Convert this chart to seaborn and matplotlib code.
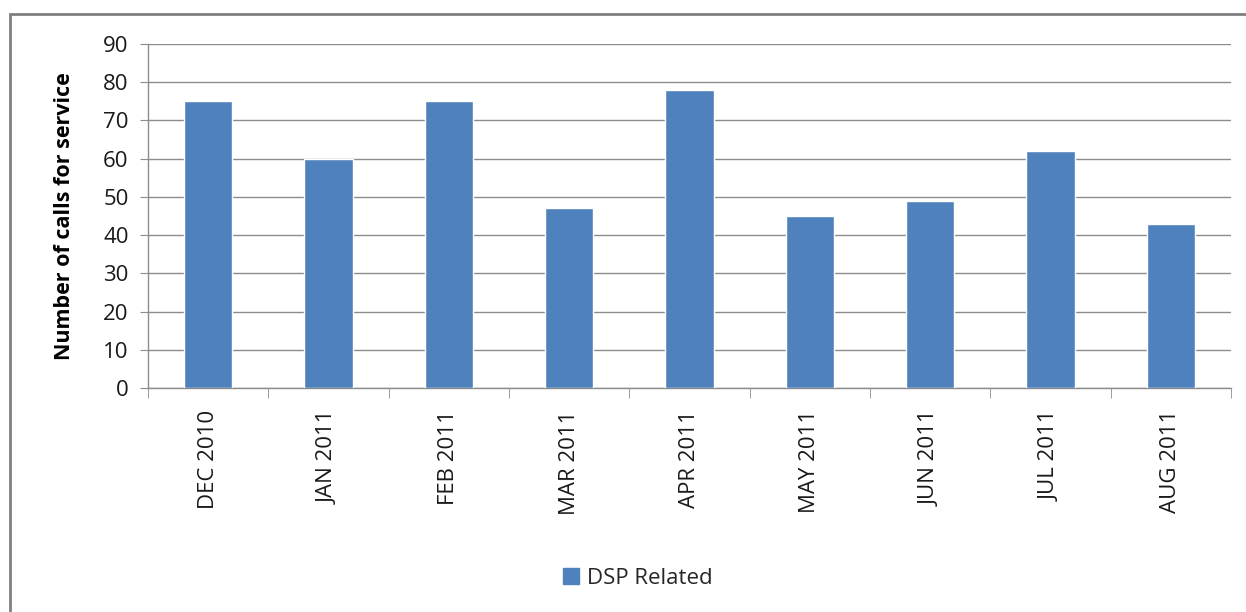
import pandas as pd
import numpy as np
import matplotlib
matplotlib.use("Agg")
import matplotlib.pyplot as plt
import seaborn as sns
from matplotlib.patches import Rectangle, Patch

# data
months = ["DEC 2010", "JAN 2011", "FEB 2011", "MAR 2011", "APR 2011",
          "MAY 2011", "JUN 2011", "JUL 2011", "AUG 2011"]
calls = [75, 60, 75, 47, 78, 45, 49, 62, 43]

df = pd.DataFrame({"Month": months, "Calls": calls})

sns.set_style("white")
plt.rcParams["font.family"] = ["Open Sans", "DejaVu Sans"]

fig = plt.figure(figsize=(12.46, 6.12), dpi=100)
ax = fig.add_axes([148 / 1246, 1 - 388 / 612, (1231 - 148) / 1246, (388 - 44) / 612])

bar_color = "#4F81BD"
sns.barplot(data=df, x="Month", y="Calls", color=bar_color, width=0.4,
            saturation=1, ax=ax, zorder=3)

ax.set_ylim(0, 90)
ax.set_yticks(range(0, 91, 10))
ax.set_xlim(-0.5, len(months) - 0.5)
ax.yaxis.grid(True, color="#8c8c8c", linewidth=1)
ax.set_axisbelow(True)

for s in ["top", "right"]:
    ax.spines[s].set_visible(False)
for s in ["left", "bottom"]:
    ax.spines[s].set_color("#8c8c8c")
    ax.spines[s].set_linewidth(1)

ax.tick_params(axis="y", which="major", left=True, length=6, color="#8c8c8c",
               labelsize=16, labelcolor="#1a1a1a", pad=8)
ax.tick_params(axis="x", which="major", length=0, labelsize=16,
               labelcolor="#1a1a1a", pad=16, labelrotation=90)
ax.set_xticks(np.arange(-0.5, len(months), 1), minor=True)
ax.tick_params(axis="x", which="minor", bottom=True, length=7, color="#8c8c8c")

ax.set_xlabel("")
ax.set_ylabel("Number of calls for service", fontsize=15.5, fontweight="bold",
              labelpad=20, color="#000000")

# legend below the plot
handles = [Patch(facecolor=bar_color, edgecolor=bar_color, label="DSP Related")]
fig.legend(handles=handles, loc="center", bbox_to_anchor=(638 / 1246, 1 - 578 / 612),
           frameon=False, fontsize=16, handlelength=0.7, handleheight=0.7,
           handletextpad=0.4)

# chart border (only left and top visible in the reference)
fig.patches.append(Rectangle((10 / 1246, -0.1), 1.2, 1.1 - 14 / 612,
                             transform=fig.transFigure, fill=False,
                             edgecolor="#808080", linewidth=2))

fig.savefig("out.png", dpi=100)
